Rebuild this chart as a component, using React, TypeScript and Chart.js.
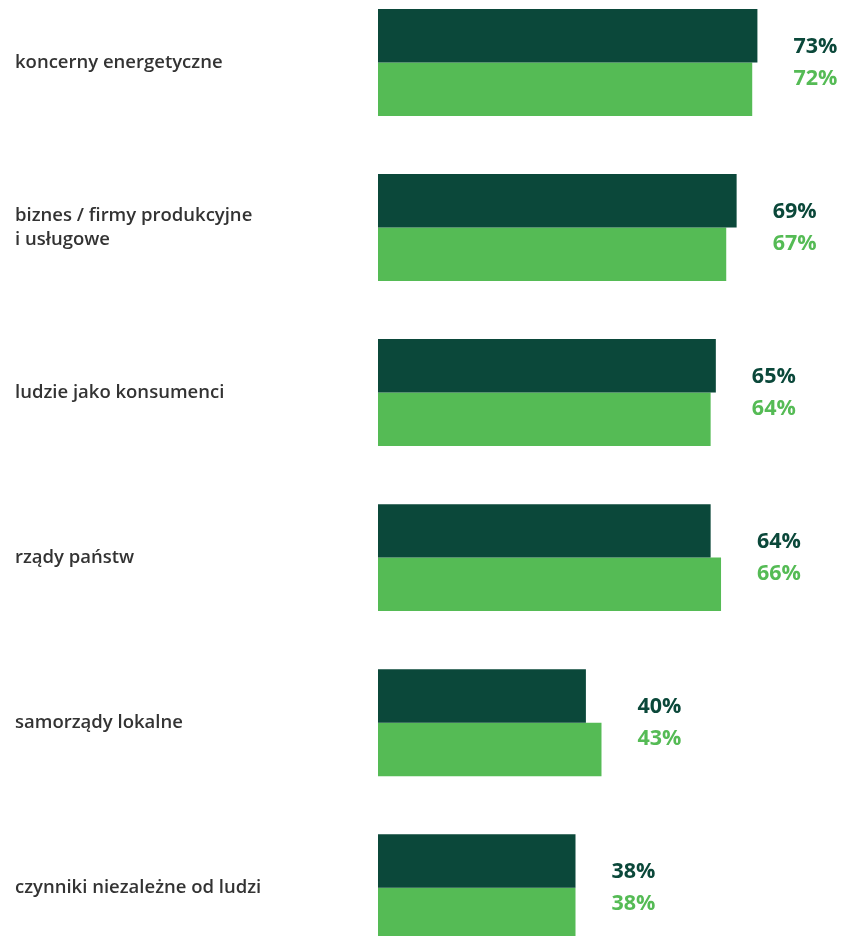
import React, { useEffect, useRef } from "react";
import { Chart, registerables } from "chart.js";

Chart.register(...registerables);

const categories: (string | string[])[] = [
  "koncerny energetyczne",
  ["biznes / firmy produkcyjne", "i usługowe"],
  "ludzie jako konsumenci",
  "rządy państw",
  "samorządy lokalne",
  "czynniki niezależne od ludzi",
];
const seriesDark = [73, 69, 65, 64, 40, 38];
const seriesLight = [72, 67, 64, 66, 43, 38];

const DARK = "#0b483a";
const LIGHT = "#55bb55";

const valueLabels = {
  id: "valueLabels",
  afterDatasetsDraw(chart: any) {
    const ctx = chart.ctx;
    const m0 = chart.getDatasetMeta(0);
    const m1 = chart.getDatasetMeta(1);
    ctx.save();
    ctx.font = "700 21.5px 'Open Sans'";
    ctx.textAlign = "left";
    ctx.textBaseline = "middle";
    m0.data.forEach((bar: any, i: number) => {
      const b2 = m1.data[i];
      const xEnd = Math.max(bar.x, b2.x) + 36;
      const yc = (bar.y + b2.y) / 2;
      ctx.fillStyle = DARK;
      ctx.fillText(seriesDark[i] + "%", xEnd, yc - 16);
      ctx.fillStyle = LIGHT;
      ctx.fillText(seriesLight[i] + "%", xEnd, yc + 16);
    });
    ctx.restore();
  },
};

export default function App() {
  const ref = useRef<HTMLCanvasElement>(null);
  useEffect(() => {
    if (!ref.current) return;
    const chart = new Chart(ref.current, {
      type: "bar",
      data: {
        labels: categories,
        datasets: [
          {
            data: seriesDark,
            backgroundColor: DARK,
            barPercentage: 1,
            categoryPercentage: 0.648,
            clip: false as any,
          },
          {
            data: seriesLight,
            backgroundColor: LIGHT,
            barPercentage: 1,
            categoryPercentage: 0.648,
            clip: false as any,
          },
        ],
      },
      options: {
        indexAxis: "y",
        animation: false,
        responsive: true,
        maintainAspectRatio: false,
        layout: { padding: { left: 15, top: 62.5, bottom: 48.3, right: 47.2 } },
        plugins: { legend: { display: false }, tooltip: { enabled: false } },
        scales: {
          x: { display: false, min: 0, max: 80 },
          y: {
            offset: false,
            grid: { display: false },
            border: { display: false },
            afterFit: (s: any) => {
              s.width = 363;
            },
            ticks: {
              autoSkip: false,
              crossAlign: "far",
              color: "#333333",
              font: { family: "'Open Sans'", size: 18.5, weight: 600 as any, lineHeight: 1.3 },
            },
          },
        },
      },
      plugins: [valueLabels],
    });
    return () => chart.destroy();
  }, []);
  return (
    <div style={{ position: "absolute", left: 0, top: 0, width: 841, height: 936 }}>
      <canvas ref={ref} />
    </div>
  );
}
